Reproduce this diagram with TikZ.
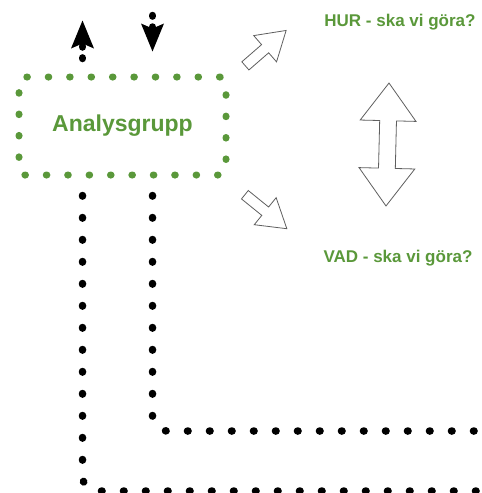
\documentclass[tikz,border=0pt]{standalone}
\usepackage{fontspec}
\setmainfont{Liberation Sans}
\usetikzlibrary{shapes.arrows,arrows.meta}
\definecolor{grn}{RGB}{90,152,58}
\definecolor{sketch}{RGB}{95,95,95}
\begin{document}
\begin{tikzpicture}[x=1pt,y=-1pt,
  greenbox/.style={draw=grn, line width=7pt, line cap=round, dash pattern=on 0.6pt off 20.8pt,
    rounded corners=6pt, minimum width=207pt, minimum height=98pt, inner sep=0pt,
    font=\bfseries\fontsize{23}{27}\selectfont, text=grn},
  blackdots/.style={draw=black, line width=7.5pt, line cap=round, dash pattern=on 0.6pt off 21.4pt, rounded corners=15pt},
  shortdots/.style={draw=black, line width=7.5pt, line cap=round, dash pattern=on 0.6pt off 10.9pt},
  qtext/.style={text=grn, font=\bfseries\fontsize{17}{20}\selectfont, inner sep=0pt},
  hollow/.style={draw=sketch, line width=0.8pt, fill=white, inner sep=5pt, single arrow,
    single arrow head extend=12pt, single arrow tip angle=64, minimum height=54pt},
  tipblk/.style={-{Stealth[length=28pt, width=23pt, inset=5pt, line width=0pt]}}
]
\useasboundingbox (0,0) rectangle (482,493);
% main box
\node[greenbox] (box) at (122.5,126) {Analysgrupp};
% questions
\node[qtext] (hur) at (400,22) {HUR - ska vi göra?};
\node[qtext] (vad) at (398,258) {VAD - ska vi göra?};
% hollow arrows
\node[hollow, rotate=41] (aup) at (262.5,51) {};
\node[hollow, rotate=-39] (adown) at (262.5,209) {};
\node[draw=sketch, line width=0.8pt, fill=white, double arrow, inner sep=8pt,
  double arrow head extend=19.5pt, double arrow tip angle=73, minimum height=123pt,
  rotate=88.6] (dbl) at (387.5,144.5) {};
% arrows at the top of the box
\draw[shortdots, tipblk] ([xshift=67pt,yshift=15pt]box.north west) -- ([xshift=67pt,yshift=53pt]box.north west);
\draw[shortdots, tipblk] ([xshift=137pt,yshift=58pt]box.north west) -- ([xshift=137pt,yshift=22pt]box.north west);
% long dotted lines
\coordinate (e1) at (500,491);
\coordinate (e2) at (500,431);
\draw[blackdots] ([xshift=67pt,yshift=-17pt]box.south west) |- (e1);
\draw[blackdots] ([xshift=137pt,yshift=-17pt]box.south west) |- (e2);
\end{tikzpicture}
\end{document}
